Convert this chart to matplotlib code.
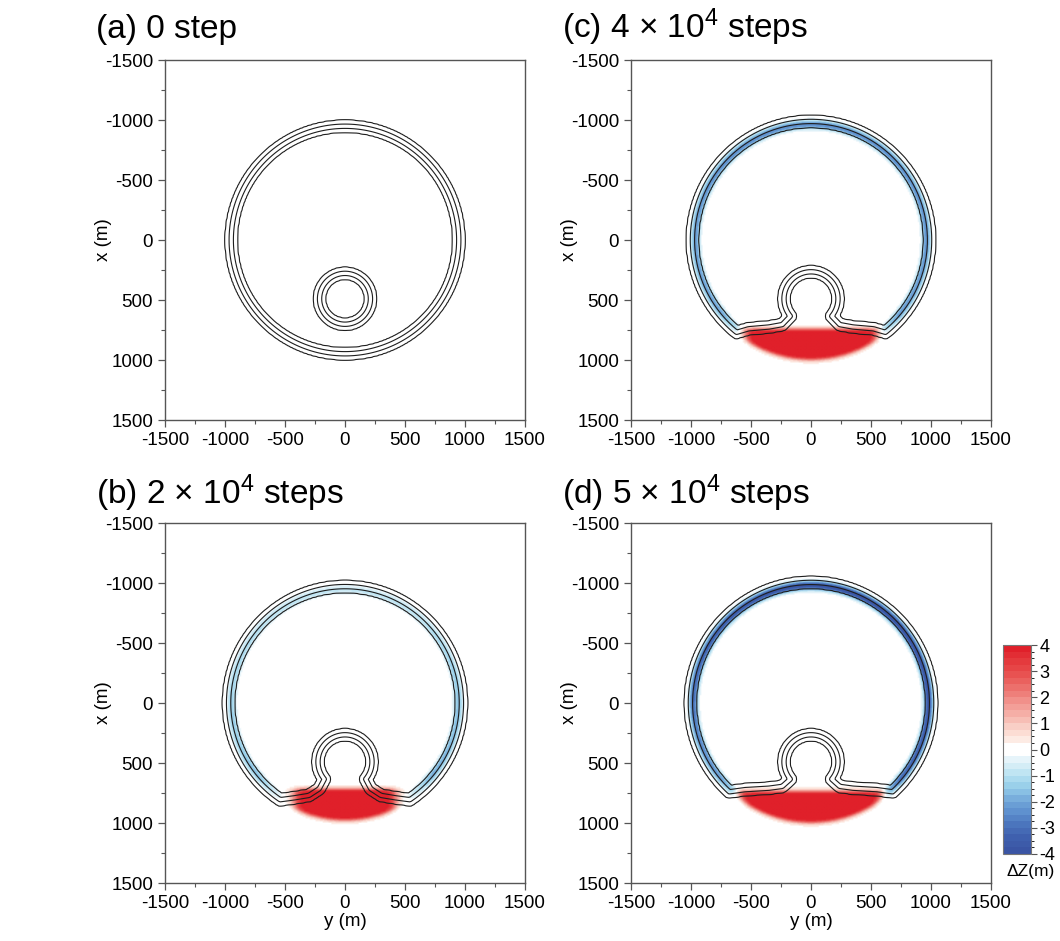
import numpy as np
import matplotlib.pyplot as plt
from matplotlib.colors import LinearSegmentedColormap, ListedColormap, BoundaryNorm
from matplotlib.cm import ScalarMappable
from matplotlib.ticker import MultipleLocator

plt.rcParams['font.family'] = ['Liberation Sans', 'DejaVu Sans']
plt.rcParams['mathtext.fontset'] = 'custom'
plt.rcParams['mathtext.rm'] = 'Liberation Sans'
plt.rcParams['mathtext.default'] = 'regular'
plt.rcParams['axes.unicode_minus'] = False

titles = ['(a) 0 step', '(b) 2 × 10$^{4}$ steps',
          '(c) 4 × 10$^{4}$ steps', '(d) 5 × 10$^{4}$ steps']

# channel geometry (m); vertical axis is x, horizontal axis is y
ring_radius = [948, 970, 988, 1005]
small_center = 490
small_radius = [212, 225, 225, 225]
half_width = 55
line_offsets = [18, 52]

# junction of the outer ring with the neck (half spacing in y)
junction_y = [0, 540, 620, 680]
# neck centreline, from the small loop out towards the junction
neck_y = [[], [215, 300, 420], [240, 350, 520], [240, 350, 550]]
neck_x = [[], [715, 770, 790], [705, 725, 740], [695, 710, 722]]

# bank erosion along the outer ring, angle from the top (deg, clockwise)
theta_knots = [-150, -130, -90, -45, 0, 45, 90, 130, 150]
erosion = [[0] * 9,
           [0, 1.6, 1.3, 1.0, 0.8, 1.0, 1.6, 1.9, 0],
           [0, 2.0, 2.2, 2.4, 2.5, 2.4, 2.3, 2.2, 0],
           [0, 2.2, 3.0, 3.6, 4.0, 4.0, 3.8, 3.2, 0]]

# deposition in the abandoned reach
deposit_top = [0, 720, 745, 740]
deposit_outer = [0, 980, 1000, 1000]
deposit_half = [0, 420, 560, 620]
deposit_height = 4.5

cbar_colors = ['#3a55a4', '#3f60ae', '#4a73bc', '#5d8fce', '#74a9da', '#95cde9',
               '#b8e2f2', '#dff1f8', '#ffffff', '#fde5dc', '#f8c9c0', '#f4aaa2',
               '#f08c86', '#ec6e6a', '#e8504f', '#e43a3d', '#e0202a']


def keyhole(k):
    R, hj = ring_radius[k], junction_y[k]
    sr = small_radius[k]
    a0 = np.arcsin(hj / R)
    phi = np.linspace(a0, 2 * np.pi - a0, 240)
    big = np.c_[R * np.sin(phi), R * np.cos(phi)]
    ny, nx = np.array(neck_y[k], float), np.array(neck_x[k], float)
    left = np.c_[-ny[::-1], nx[::-1]]
    psi = np.radians(np.linspace(-50, -310, 120))
    small = np.c_[sr * np.sin(psi), small_center + sr * np.cos(psi)]
    right = np.c_[ny, nx]
    return np.vstack([big, left, small, right])


def path_distance(Y, X, path):
    d = np.full(Y.shape, np.inf)
    p = np.vstack([path, path[:1]])
    for (y0, x0), (y1, x1) in zip(p[:-1], p[1:]):
        dy, dx = y1 - y0, x1 - x0
        t = np.clip(((Y - y0) * dy + (X - x0) * dx) / (dy * dy + dx * dx), 0, 1)
        d = np.minimum(d, np.hypot(Y - y0 - t * dy, X - x0 - t * dx))
    return d


def sig(z):
    return 1.0 / (1.0 + np.exp(-z))


g = np.arange(-1500, 1501, 12.0)
Y, X = np.meshgrid(g, g)
r_big = np.hypot(Y, X)
r_small = np.hypot(Y, X - small_center)
theta = np.degrees(np.arctan2(Y, -X))

# 32 bands from -4 to 4, the two bands either side of zero kept white
band_colors = LinearSegmentedColormap.from_list('dz', cbar_colors)(
    np.linspace(0, 1, 32))
band_colors[15] = band_colors[16] = (1, 1, 1, 1)
cmap = ListedColormap(band_colors)
norm = BoundaryNorm(np.linspace(-4, 4, 33), 32)

fig = plt.figure(figsize=(10.6, 9.41), dpi=100)
boxes = [(165, 420), (165, 883), (631, 420), (631, 883)]
title_xy = [(96, 38), (96, 504), (562, 38), (562, 504)]

for k in range(4):
    x0, y1 = boxes[k]
    ax = fig.add_axes([x0 / 1060, 1 - y1 / 941, 360 / 1060, 360 / 941])

    if k == 0:
        dist = np.minimum(np.abs(r_big - ring_radius[0]),
                          np.abs(r_small - small_radius[0]))
        dz = np.zeros_like(Y)
    else:
        dist = path_distance(Y, X, keyhole(k))
        amp = np.interp(theta, theta_knots, erosion[k])
        rc = ring_radius[k] - 22
        dz = -amp * np.exp(-((r_big - rc) / 36.0) ** 2)
        dz += deposit_height * sig((deposit_outer[k] - r_big) / 12) \
            * sig((X - deposit_top[k]) / 12) \
            * sig((deposit_half[k] - np.abs(Y)) / 30)

    bed = -4.0 * np.clip(1 - dist / half_width, 0, 1)
    levels = sorted(-4.0 * (1 - np.array(line_offsets) / half_width))

    ax.imshow(dz, extent=[-1500, 1500, 1500, -1500], cmap=cmap, norm=norm,
              interpolation='bilinear', aspect='auto')
    ax.contour(Y, X, bed, levels=levels, colors='#1e1e1e', linewidths=0.8,
               linestyles='solid')

    ax.set_xlim(-1500, 1500)
    ax.set_ylim(1500, -1500)
    ax.xaxis.set_major_locator(MultipleLocator(500))
    ax.yaxis.set_major_locator(MultipleLocator(500))
    ax.xaxis.set_minor_locator(MultipleLocator(250))
    ax.yaxis.set_minor_locator(MultipleLocator(250))
    ax.tick_params(which='both', direction='out', colors='#555555',
                   labelcolor='black', labelsize=13.5, top=False, right=False)
    ax.tick_params(which='major', length=5, width=0.9)
    ax.tick_params(which='minor', length=3, width=0.8)
    for s in ax.spines.values():
        s.set_color('#555555')
        s.set_linewidth(1.0)

    ax.set_ylabel('x (m)', fontsize=13.5)
    ax.yaxis.set_label_coords(-0.147, 0.5)
    if k in (1, 3):
        ax.set_xlabel('y (m)', fontsize=13.5, labelpad=1)

    tx, ty = title_xy[k]
    fig.text(tx / 1060, 1 - ty / 941, titles[k], fontsize=24, va='baseline')

cax = fig.add_axes([1003 / 1060, 1 - 854 / 941, 28 / 1060, 209 / 941])
sm = ScalarMappable(norm=norm, cmap=cmap)
cb = fig.colorbar(sm, cax=cax, ticks=range(-4, 5))
cb.outline.set_edgecolor('#777777')
cb.outline.set_linewidth(0.8)
cax.tick_params(labelsize=13, length=4, width=0.8, colors='#555555',
                labelcolor='black', pad=2)
fig.text(1031 / 1060, 1 - 864 / 941, 'ΔZ(m)', ha='center', va='top',
         fontsize=12.5)

fig.savefig('out.png', dpi=100)
